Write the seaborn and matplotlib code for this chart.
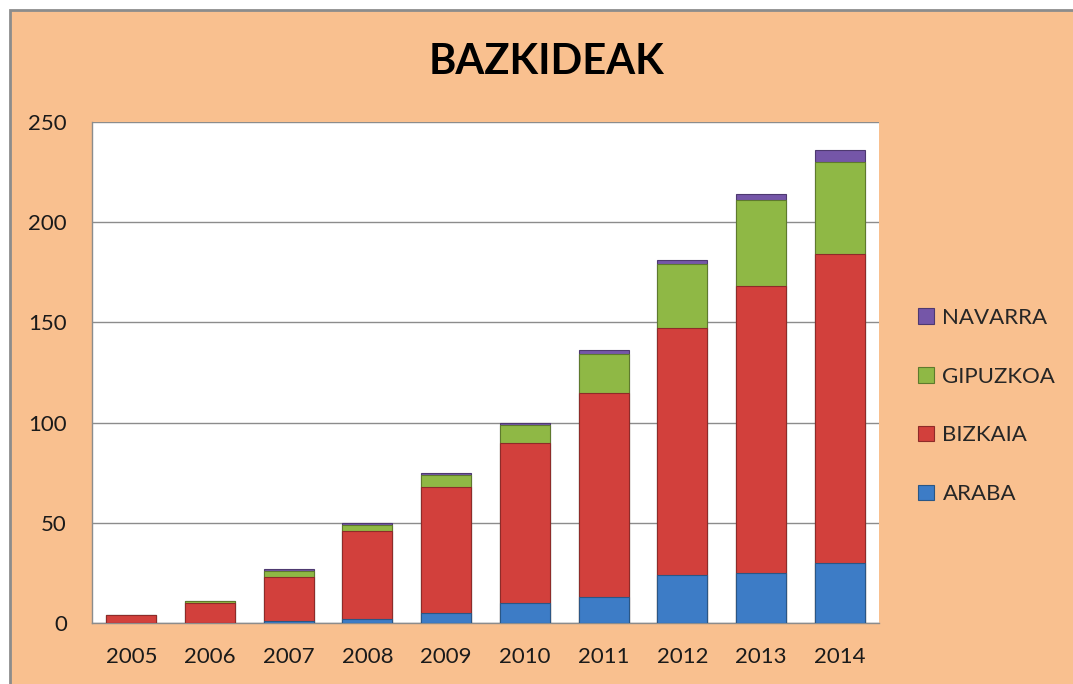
import pandas as pd
import numpy as np
import matplotlib
matplotlib.use("Agg")
import matplotlib.pyplot as plt
import seaborn as sns
from matplotlib.patches import Rectangle

# Data
years = ["2005", "2006", "2007", "2008", "2009", "2010", "2011", "2012", "2013", "2014"]
araba = [0, 0, 1, 2, 5, 10, 13, 24, 25, 30]
bizkaia = [4, 10, 22, 44, 63, 80, 102, 123, 143, 154]
gipuzkoa = [0, 1, 3, 3, 6, 9, 19, 32, 43, 46]
navarra = [0, 0, 1, 1, 1, 1, 2, 2, 3, 6]

regions = ["ARABA", "BIZKAIA", "GIPUZKOA", "NAVARRA"]
colors = {"ARABA": "#3D7CC6", "BIZKAIA": "#D2403C", "GIPUZKOA": "#8FB845", "NAVARRA": "#7556A8"}
edges = {"ARABA": "#2A5685", "BIZKAIA": "#8E2B29", "GIPUZKOA": "#5E7A2D", "NAVARRA": "#4E3970"}

BG = "#F9C08F"

df = pd.DataFrame({"year": years, "ARABA": araba, "BIZKAIA": bizkaia,
                   "GIPUZKOA": gipuzkoa, "NAVARRA": navarra})
# cumulative tops for stacking
cum = df[regions].cumsum(axis=1)
cum["year"] = df["year"]

sns.set_style("white")
plt.rcParams["font.family"] = ["Lato", "DejaVu Sans"]

fig = plt.figure(figsize=(10.73, 6.84), dpi=100, facecolor="white")

# chart area: peach box with grey border, cut off at right/bottom
fig.patches.append(Rectangle((9.5 / 1073, -0.05), 1.2, 1 - 10 / 684 + 0.05,
                             transform=fig.transFigure, facecolor=BG,
                             edgecolor="#8C8C8C", linewidth=2, zorder=-1))

ax = fig.add_axes([92 / 1073, 1 - 623 / 684, (879 - 92) / 1073, (623 - 122) / 684])
ax.set_facecolor("white")

# draw from top layer down so each lower layer covers the one above
for reg in regions[::-1]:
    sns.barplot(data=cum, x="year", y=reg, order=years, color=colors[reg],
                width=0.635, edgecolor=edges[reg], linewidth=0.8,
                saturation=1, label=reg, ax=ax, zorder=3)

ax.set_ylim(0, 250)
ax.set_xlim(-0.5, 9.5)
ax.set_yticks(np.arange(0, 251, 50))
ax.yaxis.grid(True, color="#8C8C8C", linewidth=1, zorder=0)
ax.set_axisbelow(True)
for s in ["top", "right"]:
    ax.spines[s].set_visible(False)
for s in ["left", "bottom"]:
    ax.spines[s].set_color("#8C8C8C")
    ax.spines[s].set_linewidth(1)
ax.tick_params(axis="y", length=0, pad=18, labelsize=16, labelcolor="#1a1a1a")
ax.tick_params(axis="x", length=0, pad=17, labelsize=16, labelcolor="#1a1a1a")
ax.set_xlabel("")
ax.set_ylabel("")

fig.text(546 / 1073, 1 - 62 / 684, "BAZKIDEAK", ha="center", va="center",
         fontsize=30, fontweight="bold", color="black")

handles, labels = ax.get_legend_handles_labels()
ax.legend(handles, labels, loc="center left",
          bbox_to_anchor=(898 / 1073, 1 - 406 / 684), bbox_transform=fig.transFigure,
          frameon=False, fontsize=16, handlelength=0.7, handleheight=0.7,
          handletextpad=0.4, labelspacing=1.75)

fig.savefig("out.png", dpi=100, facecolor="white")
